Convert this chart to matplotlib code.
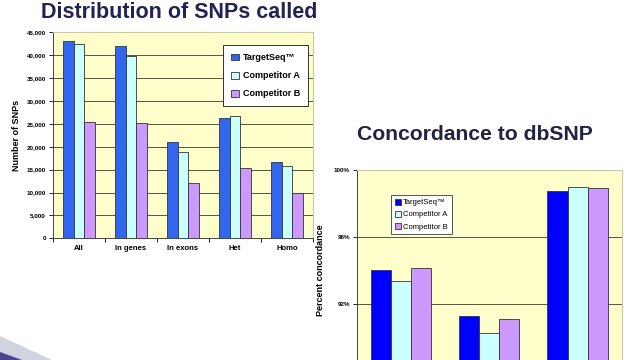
import matplotlib
matplotlib.use("Agg")
import matplotlib.pyplot as plt
import numpy as np
from matplotlib.patches import Polygon

plt.rcParams['font.family'] = ['Liberation Sans', 'DejaVu Sans']

# left chart data
snp_groups = ['All', 'In genes', 'In exons', 'Het', 'Homo']
snp_targetseq = [43100, 42000, 21100, 26300, 16700]
snp_comp_a = [42400, 39900, 18900, 26700, 15800]
snp_comp_b = [25300, 25100, 12100, 15300, 9950]
snp_ticks = [0, 5000, 10000, 15000, 20000, 25000, 30000, 35000, 40000, 45000]

# right chart data
conc_targetseq = [94.05, 91.3, 98.75]
conc_comp_a = [93.4, 90.25, 99.0]
conc_comp_b = [94.15, 91.1, 98.9]
conc_ticks = [92, 96, 100]

series_names = ['TargetSeq\u2122', 'Competitor A', 'Competitor B']

W, H = 640, 360
fig = plt.figure(figsize=(6.4, 3.6), dpi=100)

def px_axes(x0, y_top, x1, y_bot):
    return fig.add_axes([x0 / W, (H - y_bot) / H, (x1 - x0) / W, (y_bot - y_top) / H])

# ---- left chart ----
ax1 = px_axes(53, 32.3, 313, 238.3)
ax1.set_facecolor('#FFFFCC')
x = np.arange(len(snp_groups))
bw = 0.21
cols1 = ['#3366EE', '#CCFFFF', '#CC99FF']
for i, vals in enumerate([snp_targetseq, snp_comp_a, snp_comp_b]):
    ax1.bar(x + (i - 1) * bw, vals, bw, color=cols1[i], edgecolor='#333333',
            linewidth=0.6, label=series_names[i], zorder=3)
ax1.set_xlim(-0.5, len(snp_groups) - 0.5)
ax1.set_ylim(0, 45000)
ax1.set_yticks(snp_ticks)
ax1.set_yticklabels(['{:,}'.format(t) for t in snp_ticks], fontsize=4.5, fontweight='bold')
ax1.set_xticks(x)
ax1.set_xticklabels(snp_groups, fontsize=5.5, fontweight='bold')
ax1.set_xticks(np.arange(len(snp_groups) + 1) - 0.5, minor=True)
ax1.tick_params(axis='x', which='major', length=0, pad=5)
ax1.tick_params(axis='x', which='minor', length=3, width=0.6)
ax1.tick_params(axis='y', length=3, width=0.6, pad=2)
ax1.yaxis.grid(True, color='#555544', linewidth=0.7, zorder=0)
for s in ['top', 'right']:
    ax1.spines[s].set_color('#C8C8A8')
for s in ['left', 'bottom']:
    ax1.spines[s].set_color('#444444')
    ax1.spines[s].set_linewidth(0.7)
ax1.set_ylabel('Number of SNPs', fontsize=6.5, fontweight='bold', labelpad=4)
leg1 = ax1.legend(loc='upper right', prop={'weight': 'bold', 'size': 6.5},
                  handlelength=0.8, handleheight=0.8, handletextpad=0.5,
                  labelspacing=1.0, borderpad=0.9, fancybox=False,
                  edgecolor='#333333', framealpha=1, bbox_to_anchor=(1.0, 0.96))
leg1.get_frame().set_linewidth(0.7)
fig.text(179 / W, 1 - 13 / H, 'Distribution of SNPs called', fontsize=15.5,
         fontweight='bold', color='#222255', ha='center', va='center')

# ---- right chart ----
ax2 = px_axes(356.7, 170, 621.7, 371)
ax2.set_facecolor('#FFFFCC')
x2 = np.arange(len(conc_targetseq))
bw2 = 0.227
cols2 = ['#0000FF', '#CCFFFF', '#CC99FF']
for i, vals in enumerate([conc_targetseq, conc_comp_a, conc_comp_b]):
    ax2.bar(x2 + (i - 1) * bw2, vals, bw2, color=cols2[i], edgecolor='#333333',
            linewidth=0.6, label=series_names[i], zorder=3)
ax2.set_xlim(-0.5, len(conc_targetseq) - 0.5)
ax2.set_ylim(88, 100)
ax2.set_yticks(conc_ticks)
ax2.set_yticklabels(['{}%'.format(t) for t in conc_ticks], fontsize=4.5, fontweight='bold')
ax2.set_xticks([])
ax2.tick_params(axis='y', length=3, width=0.6, pad=2)
ax2.yaxis.grid(True, color='#555544', linewidth=0.7, zorder=0)
for s in ['top', 'right']:
    ax2.spines[s].set_color('#C8C8A8')
ax2.spines['left'].set_color('#444444')
ax2.spines['left'].set_linewidth(0.7)
ax2.set_ylabel('Percent concordance', fontsize=6.5, fontweight='bold')
ax2.yaxis.set_label_coords(-0.12, 0.5)
leg2 = ax2.legend(loc='upper left', fontsize=5.5, handlelength=0.8, handleheight=0.8,
                  handletextpad=0.3, labelspacing=0.6, borderpad=0.5, fancybox=False,
                  edgecolor='#555555', framealpha=1, bbox_to_anchor=(0.115, 0.895))
leg2.get_frame().set_linewidth(0.7)
fig.text(475 / W, 1 - 135 / H, 'Concordance to dbSNP', fontsize=15.2,
         fontweight='bold', color='#222244', ha='center', va='center')

# corner decoration
fig.patches.append(Polygon([[0, 1 - 336 / H], [52 / W, 0], [0, 0]], closed=True,
                           transform=fig.transFigure, facecolor='#D0D4DE', edgecolor='none'))
fig.patches.append(Polygon([[0, 1 - 352 / H], [22 / W, 0], [0, 0]], closed=True,
                           transform=fig.transFigure, facecolor='#4A4490', edgecolor='none'))

fig.savefig('out.png', dpi=100)
